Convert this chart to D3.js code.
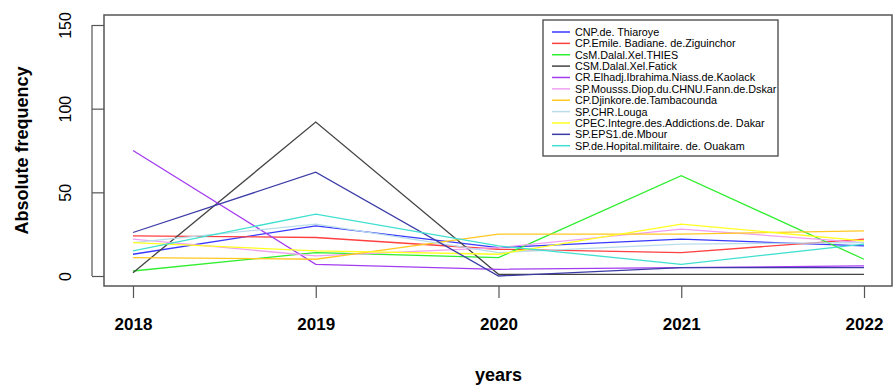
<!DOCTYPE html>
<html>
<head>
<meta charset="utf-8">
<script src="https://cdn.jsdelivr.net/npm/d3@7"></script>
<style>
  html, body { margin: 0; padding: 0; background: #fff; }
  svg { display: block; font-family: "Liberation Sans", Arial, sans-serif; }
</style>
</head>
<body>
<svg id="chart" width="896" height="389"></svg>
<script>
// Years on the x axis
const years = [2018, 2019, 2020, 2021, 2022];

// Centre names (legend order)
const centres = [
  "CNP.de. Thiaroye",
  "CP.Emile. Badiane. de.Ziguinchor",
  "CsM.Dalal.Xel.THIES",
  "CSM.Dalal.Xel.Fatick",
  "CR.Elhadj.Ibrahima.Niass.de.Kaolack",
  "SP.Mousss.Diop.du.CHNU.Fann.de.Dskar",
  "CP.Djinkore.de.Tambacounda",
  "SP.CHR.Louga",
  "CPEC.Integre.des.Addictions.de. Dakar",
  "SP.EPS1.de.Mbour",
  "SP.de.Hopital.militaire. de. Ouakam"
];

// Absolute frequency per centre, 2018..2022
const thiaroye    = [13, 30, 17, 22, 18];
const ziguinchor  = [24, 23, 16, 14, 22];
const thies       = [3, 14, 11, 60, 10];
const fatick      = [2, 92, 1, 1, 1];
const kaolack     = [75, 7, 4, 5, 6];
const fann        = [22, 12, 17, 28, 20];
const tambacounda = [11, 10, 25, 25, 27];
const louga       = [20, 31, 14, 19, 20];
const cpecDakar   = [20, 15, 13, 31, 21];
const mbour       = [26, 62, 0, 5, 5];
const ouakam      = [15, 37, 18, 7, 19];

const seriesValues = [thiaroye, ziguinchor, thies, fatick, kaolack, fann,
                      tambacounda, louga, cpecDakar, mbour, ouakam];

const yTicks = [0, 50, 100, 150];

const colors = ["#3838ff", "#ff4040", "#30ee30", "#444444", "#a43cf0", "#f0a0f0",
                "#ffc820", "#b8dcea", "#ffff20", "#3c3ca8", "#40e0d0"];

const svg = d3.select("#chart");

// Plot frame
const box = { left: 104, right: 892, top: 15, bottom: 286 };

const x = d3.scaleLinear().domain([2018, 2022]).range([133, 864]);
const y = d3.scaleLinear().domain([0, 150]).range([276, 25]);

// Series lines
const line = d3.line()
  .x((d, i) => x(years[i]))
  .y(d => y(d));

svg.append("g")
  .selectAll("path")
  .data(seriesValues)
  .join("path")
  .attr("d", d => line(d))
  .attr("fill", "none")
  .attr("stroke", (d, i) => colors[i])
  .attr("stroke-width", 1.3);

// Box around plot
svg.append("rect")
  .attr("x", box.left).attr("y", box.top)
  .attr("width", box.right - box.left).attr("height", box.bottom - box.top)
  .attr("fill", "none").attr("stroke", "#555").attr("stroke-width", 1.5);

// X axis
const xAxis = d3.axisBottom(x).tickValues(years).tickFormat(d3.format("d"))
  .tickSize(12).tickPadding(20);
const gx = svg.append("g").attr("transform", `translate(0,${box.bottom})`).call(xAxis);
gx.select(".domain").remove();
gx.selectAll(".tick line").attr("stroke", "#555").attr("stroke-width", 1.2);
gx.selectAll(".tick text")
  .attr("font-size", 17).attr("font-weight", "bold")
  .attr("font-family", "'Liberation Sans', Arial, sans-serif")
  .attr("fill", "#000");

// Y axis
const yAxis = d3.axisLeft(y).tickValues(yTicks).tickSize(12).tickPadding(0);
const gy = svg.append("g").attr("transform", `translate(${box.left},0)`).call(yAxis);
gy.select(".domain").attr("d", `M-12,${y(0)}V${y(150)}`).attr("stroke", "#555").attr("stroke-width", 1.2);
gy.selectAll(".tick line").attr("stroke", "#555").attr("stroke-width", 1.2);
gy.selectAll(".tick text")
  .attr("font-size", 16)
  .attr("font-family", "'Liberation Sans', Arial, sans-serif")
  .attr("fill", "#000")
  .attr("text-anchor", "middle")
  .attr("dominant-baseline", "central")
  .attr("x", 0).attr("dy", null)
  .attr("transform", "translate(-39,0) rotate(-90)");

// Axis titles
svg.append("text")
  .attr("x", (133 + 864) / 2).attr("y", 381)
  .attr("text-anchor", "middle")
  .attr("font-size", 18).attr("font-weight", "bold")
  .text("years");

svg.append("text")
  .attr("transform", `translate(28,${(y(0) + y(150)) / 2}) rotate(-90)`)
  .attr("text-anchor", "middle")
  .attr("font-size", 18).attr("font-weight", "bold")
  .text("Absolute frequency");

// Legend
const legend = svg.append("g");
legend.append("rect")
  .attr("x", 543).attr("y", 20).attr("width", 235).attr("height", 136)
  .attr("fill", "#fff").attr("stroke", "#444").attr("stroke-width", 1.3);

const rowH = 11.37;
const rows = legend.selectAll("g.row")
  .data(centres)
  .join("g")
  .attr("class", "row")
  .attr("transform", (d, i) => `translate(0,${32 + i * rowH})`);

rows.append("line")
  .attr("x1", 552).attr("x2", 570)
  .attr("stroke", (d, i) => colors[i]).attr("stroke-width", 1.5);

rows.append("text")
  .attr("x", 575)
  .attr("dominant-baseline", "central")
  .attr("font-size", 10.8)
  .attr("fill", "#000")
  .text(d => d);
</script>
</body>
</html>
